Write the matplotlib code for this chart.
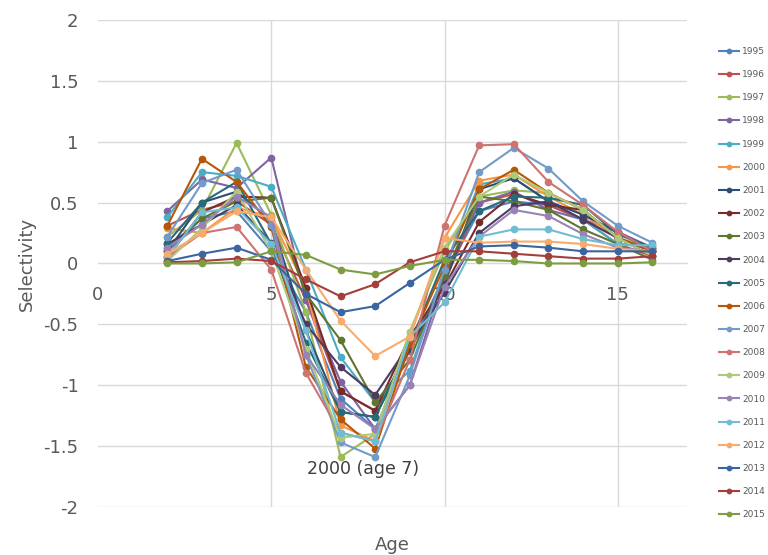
import numpy as np
import matplotlib
matplotlib.use("Agg")
import matplotlib.pyplot as plt

ages = list(range(2, 17))
years = [str(y) for y in range(1995, 2016)]

sel_1995 = [0.10, 0.37, 0.43, 0.10, -0.40, -1.11, -1.36, -0.70, -0.10, 0.43, 0.51, 0.48, 0.36, 0.21, 0.10]
sel_1996 = [0.31, 0.44, 0.51, 0.32, -0.30, -1.05, -1.21, -0.72, -0.15, 0.50, 0.57, 0.48, 0.36, 0.16, 0.06]
sel_1997 = [0.22, 0.44, 0.99, 0.40, -0.40, -1.59, -1.40, -0.56, 0.10, 0.55, 0.60, 0.58, 0.44, 0.21, 0.13]
sel_1998 = [0.43, 0.69, 0.62, 0.87, -0.30, -0.97, -1.36, -1.00, -0.10, 0.50, 0.59, 0.44, 0.36, 0.26, 0.13]
sel_1999 = [0.38, 0.75, 0.72, 0.63, -0.05, -0.77, -1.14, -0.88, -0.05, 0.65, 0.70, 0.51, 0.36, 0.16, 0.15]
sel_2000 = [0.29, 0.25, 0.46, 0.38, -0.20, -1.33, -1.46, -0.60, 0.21, 0.68, 0.73, 0.55, 0.40, 0.21, 0.10]
sel_2001 = [0.10, 0.50, 0.59, 0.35, -0.55, -1.22, -1.26, -0.70, -0.17, 0.61, 0.70, 0.51, 0.40, 0.26, 0.10]
sel_2002 = [0.05, 0.42, 0.55, 0.54, -0.20, -1.05, -1.21, -0.60, -0.19, 0.34, 0.57, 0.48, 0.44, 0.21, 0.06]
sel_2003 = [0.13, 0.37, 0.51, 0.54, -0.25, -0.63, -1.14, -0.79, -0.10, 0.55, 0.51, 0.44, 0.28, 0.16, 0.03]
sel_2004 = [0.16, 0.32, 0.48, 0.17, -0.50, -0.85, -1.08, -0.66, -0.24, 0.25, 0.47, 0.51, 0.36, 0.21, 0.10]
sel_2005 = [0.17, 0.50, 0.67, 0.16, -0.65, -1.22, -1.26, -0.66, 0.03, 0.43, 0.55, 0.54, 0.48, 0.24, 0.13]
sel_2006 = [0.31, 0.86, 0.67, 0.30, -0.85, -1.28, -1.52, -0.66, -0.02, 0.61, 0.77, 0.58, 0.44, 0.21, 0.10]
sel_2007 = [0.22, 0.66, 0.77, 0.32, -0.75, -1.47, -1.59, -0.92, -0.05, 0.75, 0.95, 0.78, 0.51, 0.31, 0.17]
sel_2008 = [0.05, 0.25, 0.30, -0.05, -0.90, -1.39, -1.46, -0.79, 0.31, 0.97, 0.98, 0.67, 0.48, 0.26, 0.10]
sel_2009 = [0.02, 0.29, 0.59, 0.10, -0.70, -1.43, -1.40, -0.56, 0.13, 0.55, 0.73, 0.58, 0.44, 0.21, 0.06]
sel_2010 = [0.13, 0.32, 0.55, 0.38, -0.75, -1.16, -1.36, -1.00, -0.19, 0.22, 0.44, 0.39, 0.24, 0.13, 0.10]
sel_2011 = [0.05, 0.42, 0.46, 0.16, -0.55, -1.39, -1.46, -0.60, -0.32, 0.22, 0.28, 0.28, 0.20, 0.15, 0.15]
sel_2012 = [0.08, 0.25, 0.43, 0.38, -0.05, -0.47, -0.76, -0.60, 0.21, 0.17, 0.18, 0.18, 0.16, 0.12, 0.10]
sel_2013 = [0.02, 0.08, 0.13, 0.03, -0.25, -0.40, -0.35, -0.16, 0.03, 0.14, 0.15, 0.13, 0.10, 0.10, 0.10]
sel_2014 = [0.01, 0.02, 0.04, 0.02, -0.13, -0.27, -0.17, 0.01, 0.10, 0.10, 0.08, 0.06, 0.04, 0.04, 0.06]
sel_2015 = [0.00, 0.00, 0.01, 0.10, 0.07, -0.05, -0.09, -0.02, 0.03, 0.03, 0.02, 0.00, 0.00, 0.00, 0.01]

series = [sel_1995, sel_1996, sel_1997, sel_1998, sel_1999, sel_2000, sel_2001,
          sel_2002, sel_2003, sel_2004, sel_2005, sel_2006, sel_2007, sel_2008,
          sel_2009, sel_2010, sel_2011, sel_2012, sel_2013, sel_2014, sel_2015]

# Excel 2010 style palette
colors = ["#4F81BD", "#C0504D", "#9BBB59", "#8064A2", "#4BACC6", "#F79646",
          "#2C4D75", "#772C2A", "#5F7530", "#4D3B62", "#276A7C", "#B65708",
          "#729ACA", "#CD7371", "#AFC97A", "#9983B5", "#6FBDD3", "#F9AB6B",
          "#3A65A0", "#A33E3B", "#7E9D43"]

fig = plt.figure(figsize=(7.68, 5.55), dpi=100)
ax = fig.add_axes([0.1276, 0.0865, 0.767, 0.8775])

for vals, yr, c in zip(series, years, colors):
    ax.plot(ages, vals, color=c, lw=1.5, marker="o", ms=4.5, label=yr, zorder=3)

ax.set_xlim(0, 17)
ax.set_ylim(-2, 2)
ax.set_xticks([0, 5, 10, 15])
ax.set_yticks(np.arange(-2, 2.01, 0.5))
ax.set_yticklabels(["-2", "-1.5", "-1", "-0.5", "0", "0.5", "1", "1.5", "2"])

for v in np.arange(-2, 2.01, 0.5):
    ax.axhline(v, color="#D9D9D9", lw=1, zorder=1)
for v in [5, 10, 15]:
    ax.axvline(v, color="#D9D9D9", lw=1, zorder=1)

for s in ["top", "right", "left"]:
    ax.spines[s].set_visible(False)
ax.spines["bottom"].set_position(("data", 0))
ax.spines["bottom"].set_color("#D9D9D9")
ax.tick_params(axis="both", length=0, labelsize=13, colors="#595959")
ax.tick_params(axis="x", pad=16)
ax.tick_params(axis="y", pad=14)

ax.set_xlabel("Age", fontsize=13, color="#595959")
ax.xaxis.set_label_coords(0.5, -0.06)
ax.set_ylabel("Selectivity", fontsize=13, color="#595959")
ax.yaxis.set_label_coords(-0.105, 0.5)

ax.text(7.64, -1.69, "2000 (age 7)", fontsize=12.5, color="#404040",
        ha="center", va="center", zorder=4)

fig.legend(loc="upper left", bbox_to_anchor=(0.925, 0.93), frameon=False,
           fontsize=6.5, handlelength=2.3, labelspacing=1.57, handletextpad=0.3,
           markerscale=0.7, labelcolor="#595959")

fig.savefig("out.png", dpi=100)
